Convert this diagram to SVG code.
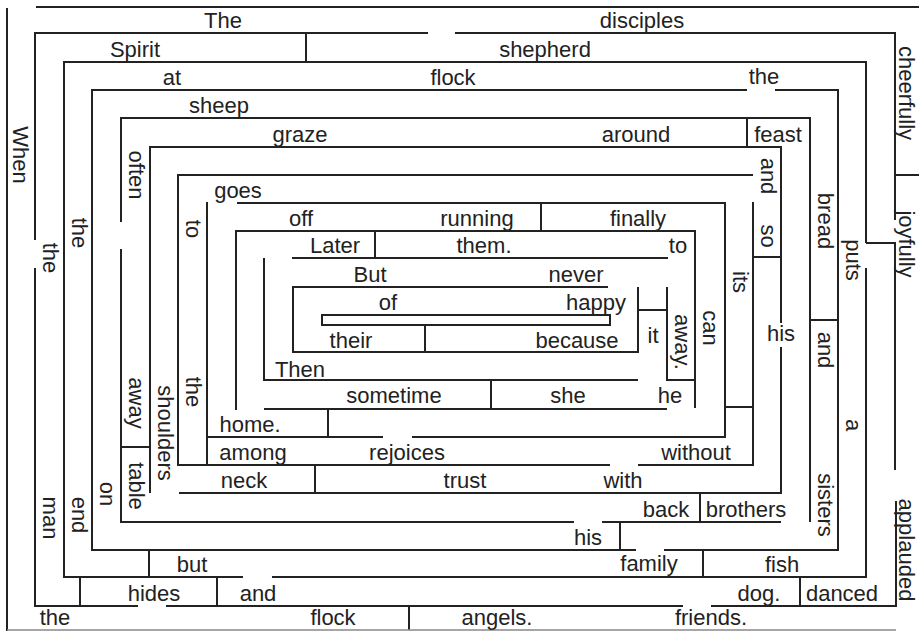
<svg xmlns="http://www.w3.org/2000/svg" width="919" height="633" viewBox="0 0 919 633">
<style>
.w{fill:none;stroke:#222;stroke-width:2;stroke-linecap:butt;stroke-linejoin:miter}
.b{fill:none;stroke:#888;stroke-width:1.5}
.t{font-family:"Liberation Sans",Arial,Helvetica,sans-serif;font-size:22px;fill:#222;text-anchor:middle}
</style>
<rect width="919" height="633" fill="#fff"/>
<g id="walls">
<path class="w" d="M7 8V631 M36 7H919
M428 33H35V240 M35 268V606H138 M166 606H683 M711 606H896V501
M455 33H895V220 M895 175H919 M866 243H895V470
M306 33V62
M243 577H64V62H866V243 M866 268V577H272
M747 90H92V550H636 M664 550H838V90H775
M810 522V118H121V222 M121 249V522H574 M602 522H781
M179 493H781V347 M781 323V147H150V493
M747 118V147
M753 175H178V465H610 M638 465H753V202
M207 465V202 M237 203H725V437H412 M383 437H207
M236 410V231H695V408
M541 203V231 M375 231V258
M638 380H264V258 M292 258H668
M608 287H293V352H638V287
M425 325V352
M638 310H667 M667 287V380H695
M491 380V409 M264 409H667 M328 409V437
M725 407H753 M753 257H781 M810 320H838
M315 465V493 M700 493V522 M620 522V550
M149 550V577 M703 550V577
M80 577V606 M217 577V606 M800 577V606
M409 606V630 M121 447H150"/>
<rect class="w" x="322" y="315" width="288" height="10" fill="#fff"/>
<path class="b" d="M7 630H896"/>
</g>
<g id="words">
<text class="t" x="223" y="28">The</text>
<text class="t" x="642" y="28">disciples</text>
<text class="t" x="135" y="57">Spirit</text>
<text class="t" x="545" y="57">shepherd</text>
<text class="t" x="172" y="85">at</text>
<text class="t" x="453" y="85">flock</text>
<text class="t" x="764" y="84">the</text>
<text class="t" x="219" y="113">sheep</text>
<text class="t" x="300" y="142">graze</text>
<text class="t" x="636" y="142">around</text>
<text class="t" x="778" y="142">feast</text>
<text class="t" x="238" y="198">goes</text>
<text class="t" x="301" y="226">off</text>
<text class="t" x="477" y="226">running</text>
<text class="t" x="638" y="226">finally</text>
<text class="t" x="335" y="253">Later</text>
<text class="t" x="484" y="253">them.</text>
<text class="t" x="678" y="253">to</text>
<text class="t" x="370" y="282">But</text>
<text class="t" x="576" y="282">never</text>
<text class="t" x="388" y="310">of</text>
<text class="t" x="596" y="310">happy</text>
<text class="t" x="351" y="348">their</text>
<text class="t" x="577" y="348">because</text>
<text class="t" x="653" y="343">it</text>
<text class="t" x="300" y="377">Then</text>
<text class="t" x="394" y="403">sometime</text>
<text class="t" x="568" y="403">she</text>
<text class="t" x="670" y="403">he</text>
<text class="t" x="250" y="432">home.</text>
<text class="t" x="253" y="460">among</text>
<text class="t" x="407" y="460">rejoices</text>
<text class="t" x="696" y="460">without</text>
<text class="t" x="244" y="488">neck</text>
<text class="t" x="465" y="488">trust</text>
<text class="t" x="623" y="488">with</text>
<text class="t" x="666" y="517">back</text>
<text class="t" x="746" y="517">brothers</text>
<text class="t" x="588" y="545">his</text>
<text class="t" x="781" y="341">his</text>
<text class="t" x="192" y="572">but</text>
<text class="t" x="649" y="571">family</text>
<text class="t" x="782" y="572">fish</text>
<text class="t" x="154" y="601">hides</text>
<text class="t" x="258" y="601">and</text>
<text class="t" x="759" y="601">dog.</text>
<text class="t" x="842" y="601">danced</text>
<text class="t" x="55" y="625">the</text>
<text class="t" x="333" y="625">flock</text>
<text class="t" x="497" y="625">angels.</text>
<text class="t" x="711" y="625">friends.</text>
<text class="t" transform="translate(13 155) rotate(90)">When</text>
<text class="t" transform="translate(42.5 258) rotate(90)">the</text>
<text class="t" transform="translate(42.5 518) rotate(90)">man</text>
<text class="t" transform="translate(71.5 233) rotate(90)">the</text>
<text class="t" transform="translate(71.5 515) rotate(90)">end</text>
<text class="t" transform="translate(99.5 494) rotate(90)">on</text>
<text class="t" transform="translate(128.5 175) rotate(90)">often</text>
<text class="t" transform="translate(128.5 403) rotate(90)">away</text>
<text class="t" transform="translate(128.5 486) rotate(90)">table</text>
<text class="t" transform="translate(157.5 433) rotate(90)">shoulders</text>
<text class="t" transform="translate(185.5 229) rotate(90)">to</text>
<text class="t" transform="translate(185.5 392) rotate(90)">the</text>
<text class="t" transform="translate(674.5 342) rotate(90)">away.</text>
<text class="t" transform="translate(702.5 328) rotate(90)">can</text>
<text class="t" transform="translate(732.5 282) rotate(90)">its</text>
<text class="t" transform="translate(760.5 176) rotate(90)">and</text>
<text class="t" transform="translate(760.5 236) rotate(90)">so</text>
<text class="t" transform="translate(817.5 221) rotate(90)">bread</text>
<text class="t" transform="translate(817.5 350) rotate(90)">and</text>
<text class="t" transform="translate(817.5 505) rotate(90)">sisters</text>
<text class="t" transform="translate(845.5 260) rotate(90)">puts</text>
<text class="t" transform="translate(845.5 425) rotate(90)">a</text>
<text class="t" transform="translate(899 93) rotate(90)">cheerfully</text>
<text class="t" transform="translate(899 244) rotate(90)">joyfully</text>
<text class="t" transform="translate(899 550) rotate(90)">applauded</text>
</g>
</svg>
